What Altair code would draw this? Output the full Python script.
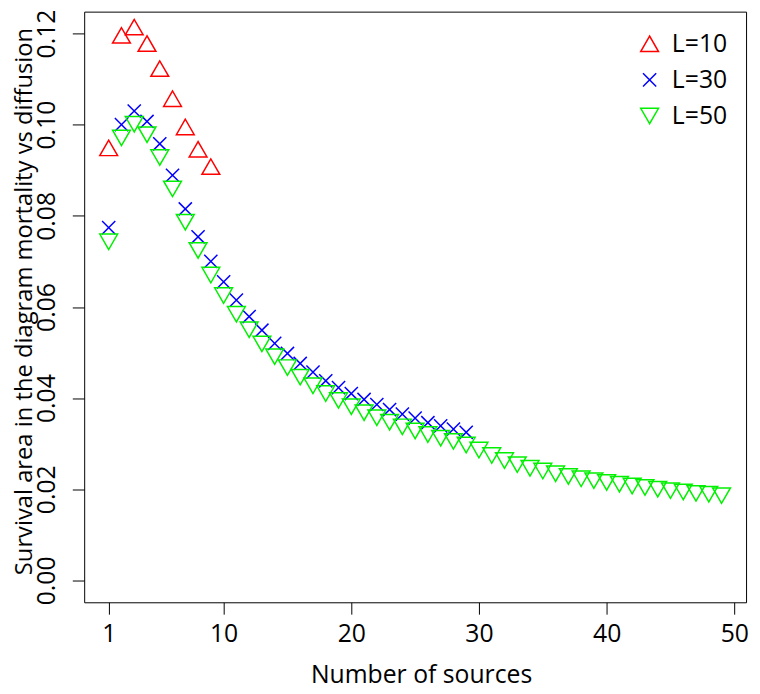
import altair as alt
import pandas as pd

# ---- data ----
n10 = [1, 2, 3, 4, 5, 6, 7, 8, 9]
s10 = [0.0949, 0.1196, 0.1214, 0.1178, 0.1123, 0.1057, 0.0995, 0.0946, 0.0908]

n30 = [1, 2, 3, 4, 5, 6, 7, 8, 9, 10, 11, 12, 13, 14, 15, 16, 17, 18, 19, 20,
       21, 22, 23, 24, 25, 26, 27, 28, 29]
s30 = [0.0774, 0.1000, 0.1030, 0.1007, 0.0958, 0.0889, 0.0815, 0.0754, 0.0700, 0.0655,
       0.0615, 0.0579, 0.0549, 0.0520, 0.0498, 0.0476, 0.0457, 0.0438, 0.0423, 0.0410,
       0.0397, 0.0386, 0.0375, 0.0365, 0.0356, 0.0346, 0.0339, 0.0332, 0.0325]

n50 = [1, 2, 3, 4, 5, 6, 7, 8, 9, 10, 11, 12, 13, 14, 15, 16, 17, 18, 19, 20,
       21, 22, 23, 24, 25, 26, 27, 28, 29, 30, 31, 32, 33, 34, 35, 36, 37, 38, 39, 40,
       41, 42, 43, 44, 45, 46, 47, 48, 49]
s50 = [0.0743, 0.0971, 0.1001, 0.0978, 0.0928, 0.0859, 0.0786, 0.0724, 0.0670, 0.0625,
       0.0584, 0.0550, 0.0519, 0.0491, 0.0467, 0.0446, 0.0427, 0.0410, 0.0395, 0.0381,
       0.0368, 0.0357, 0.0347, 0.0337, 0.0328, 0.0320, 0.0312, 0.0305, 0.0297, 0.0286,
       0.0274, 0.0263, 0.0254, 0.0246, 0.0240, 0.0234, 0.0228, 0.0223, 0.0219, 0.0215,
       0.0211, 0.0207, 0.0204, 0.0200, 0.0197, 0.0194, 0.0191, 0.0189, 0.0186]

series = ["L=10", "L=30", "L=50"]
colors = ["#FF0000", "#0000FF", "#00F000"]
shapes = ["triangle-up", "M-0.74,-0.74L0.74,0.74M0.74,-0.74L-0.74,0.74", "triangle-down"]

x_ticks = [1, 10, 20, 30, 40, 50]
y_ticks = [0.00, 0.02, 0.04, 0.06, 0.08, 0.10, 0.12]

rows = []
for name, ns, ss in zip(series, [n10, n30, n50], [s10, s30, s50]):
    for n, s in zip(ns, ss):
        rows.append({"series": name, "n": n, "s": s})
df = pd.DataFrame(rows)

FONT = "Open Sans"
FS = 25
W, H = 669, 597

chart = alt.Chart(df).mark_point(filled=False, strokeWidth=1.5, size=324, opacity=1).encode(
    x=alt.X("n:Q",
            scale=alt.Scale(domain=[-0.92, 50.92], nice=False, zero=False),
            axis=alt.Axis(values=x_ticks, title="Number of sources", grid=False, domain=False,
                          tickSize=12, tickColor="black", tickWidth=1,
                          labelFont=FONT, labelFontSize=FS, labelColor="black",
                          labelBaseline="alphabetic", labelPadding=28, labelFlush=False,
                          titleFont=FONT, titleFontSize=FS, titleFontWeight="normal",
                          titleColor="black", titleBaseline="alphabetic",
                          titleX=W / 2 + 6, titleY=81, titleAlign="center")),
    y=alt.Y("s:Q",
            scale=alt.Scale(domain=[-0.0048, 0.1248], nice=False, zero=False),
            axis=alt.Axis(values=y_ticks, format=".2f",
                          title="Survival area in the diagram mortality vs diffusion",
                          grid=False, domain=False,
                          tickSize=12, tickColor="black", tickWidth=1,
                          labelFont=FONT, labelFontSize=FS, labelColor="black",
                          labelAngle=270, labelAlign="center", labelBaseline="alphabetic",
                          labelPadding=18, labelFlush=False,
                          titleFont=FONT, titleFontSize=24, titleFontWeight="normal",
                          titleColor="black", titleAngle=270, titleAlign="center",
                          titleBaseline="alphabetic", titleX=-53, titleY=H / 2 - 6)),
    color=alt.Color("series:N", scale=alt.Scale(domain=series, range=colors),
                    legend=alt.Legend(title=None, orient="none", legendX=559, legendY=20,
                                      labelFont=FONT, labelFontSize=FS, labelColor="black",
                                      symbolSize=324, symbolStrokeWidth=1.5,
                                      rowPadding=10.5, labelOffset=10, padding=0)),
    shape=alt.Shape("series:N", scale=alt.Scale(domain=series, range=shapes)),
    order=alt.Order("series:N"),
).properties(
    width=W, height=H,
    autosize=alt.AutoSizeParams(type="none"),
    padding={"left": 77, "top": 0, "right": 6, "bottom": 88},
).configure_view(stroke="black", strokeWidth=1)

chart.save("out.html", embed_options={"renderer": "svg", "actions": False})
